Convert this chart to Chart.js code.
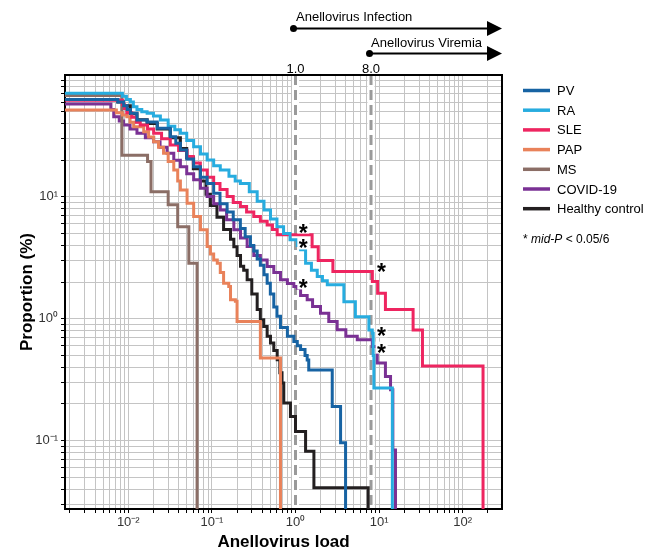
<!DOCTYPE html>
<html>
<head>
<meta charset="utf-8">
<script src="https://cdn.jsdelivr.net/npm/chart.js@4"></script>
<style>
  html, body { margin: 0; padding: 0; background: #fff; }
  #wrap { width: 654px; height: 555px; position: relative; }
</style>
</head>
<body>
<div id="wrap"><canvas id="myChart"></canvas></div>
<script>
// Anellovirus load (x) vs proportion of samples at or above that load (y, %)
const seriesNames = ['PV', 'RA', 'SLE', 'PAP', 'MS', 'COVID-19', 'Healthy control'];
const seriesColors = ['#1763a3', '#27acdf', '#ee2560', '#e9825a', '#8b6e66', '#7a3194', '#231f20'];

const pvLoad = [0.001, 0.0075, 0.0088, 0.0097, 0.0106, 0.0127, 0.0168, 0.0222, 0.0318, 0.037, 0.042, 0.05, 0.0605, 0.073, 0.0877, 0.105, 0.125, 0.152, 0.18, 0.219, 0.25, 0.289, 0.317, 0.348, 0.38, 0.42, 0.458, 0.5, 0.55, 0.6, 0.661, 0.8, 0.955, 1.05, 1.15, 1.3, 1.38, 1.44, 2.75, 3.46, 3.97];
const pvProp = [63, 60, 56, 52, 48.5, 42.8, 41.2, 36.5, 31.2, 27.5, 24.2, 20.5, 17.7, 14.5, 12.9, 10.7, 8.8, 7.5, 6.5, 5.5, 4.7, 4.0, 3.6, 3.1, 2.75, 2.3, 1.96, 1.6, 1.25, 1.05, 0.85, 0.72, 0.65, 0.6, 0.56, 0.5, 0.46, 0.38, 0.191, 0.096, 0.001];

const raLoad = [0.001, 0.0085, 0.0095, 0.0106, 0.0115, 0.0127, 0.0145, 0.0168, 0.02, 0.0242, 0.03, 0.036, 0.042, 0.05, 0.0605, 0.073, 0.0877, 0.105, 0.126, 0.16, 0.19, 0.219, 0.28, 0.348, 0.42, 0.502, 0.6, 0.72, 0.86, 1.05, 1.15, 1.32, 1.55, 1.82, 2.1, 2.4, 3.79, 5.2, 7.55, 8.29, 8.5, 8.66, 14.4];
const raProp = [70.8, 67, 63, 60, 55, 52, 50, 48.5, 46, 42.8, 38, 35.5, 33.3, 29, 25.8, 22.5, 20.1, 18, 16.6, 14.8, 13.5, 12.9, 11, 9.2, 7.8, 6.6, 5.7, 5.0, 4.44, 4.0, 3.68, 2.86, 2.5, 2.22, 2.05, 1.9, 1.38, 1.04, 0.81, 0.76, 0.5, 0.27, 0.001];

const sleLoad = [0.001, 0.0085, 0.009, 0.0096, 0.011, 0.0125, 0.0139, 0.017, 0.0201, 0.025, 0.0318, 0.04, 0.0505, 0.06, 0.0728, 0.088, 0.105, 0.125, 0.152, 0.18, 0.219, 0.26, 0.317, 0.38, 0.458, 0.53, 0.604, 1.58, 1.87, 2.8, 8.3, 9.6, 11.9, 25.5, 33, 175];
const sleProp = [62, 57, 53, 49, 45, 41, 38.9, 36, 33.3, 30, 26.7, 24, 21.4, 19, 16.6, 14.5, 12.9, 11.5, 10.05, 9, 8.32, 7.5, 6.9, 6.3, 5.89, 5.4, 4.9, 3.9, 3.0, 2.44, 2.02, 1.62, 1.19, 0.81, 0.41, 0.001];

const papLoad = [0.001, 0.0072, 0.0085, 0.0096, 0.0105, 0.0116, 0.0153, 0.0175, 0.0201, 0.023, 0.0264, 0.03, 0.035, 0.039, 0.042, 0.0505, 0.0605, 0.073, 0.0877, 0.096, 0.105, 0.116, 0.126, 0.138, 0.159, 0.167, 0.191, 0.2, 0.38, 0.661];
const papProp = [51.7, 49, 47, 45.5, 41, 37.7, 34.2, 31, 28.4, 25.5, 22.8, 19.5, 16.6, 13.5, 11.4, 8.88, 6.9, 5.37, 3.91, 3.4, 3.04, 2.86, 2.4, 1.96, 1.84, 1.43, 1.39, 0.95, 0.476, 0.001];

const msLoad = [0.001, 0.0084, 0.017, 0.0187, 0.03, 0.039, 0.053, 0.0665];
const msProp = [68, 22, 19.5, 11, 8.6, 5.7, 2.86, 0.001];

const covidLoad = [0.001, 0.0062, 0.0067, 0.0078, 0.0088, 0.0105, 0.0127, 0.016, 0.0201, 0.024, 0.0291, 0.035, 0.042, 0.05, 0.0605, 0.073, 0.0877, 0.105, 0.126, 0.15, 0.183, 0.22, 0.264, 0.317, 0.38, 0.458, 0.55, 0.661, 0.8, 0.955, 1.05, 1.15, 1.38, 1.6, 1.99, 2.5, 3.15, 4, 5.48, 8.29, 9.5, 11.9, 13.7, 14.6, 15.7];
const covidProp = [57.8, 52, 45.5, 42, 38.9, 36, 33.3, 30.5, 28.4, 25.5, 22.8, 20, 17.7, 15.5, 13.8, 11.8, 10.05, 8.8, 7.8, 6.5, 5.37, 4.6, 3.91, 3.3, 3.04, 2.68, 2.4, 2.09, 1.95, 1.84, 1.78, 1.55, 1.43, 1.26, 1.11, 0.95, 0.813, 0.72, 0.673, 0.593, 0.433, 0.336, 0.262, 0.084, 0.001];

const hcLoad = [0.001, 0.0075, 0.0088, 0.0106, 0.0127, 0.0168, 0.0222, 0.0318, 0.042, 0.05, 0.06, 0.073, 0.085, 0.096, 0.115, 0.138, 0.167, 0.183, 0.2, 0.22, 0.24, 0.264, 0.3, 0.348, 0.38, 0.417, 0.458, 0.502, 0.55, 0.604, 0.65, 0.69, 0.724, 0.87, 1.0, 1.32, 1.66, 7.4];
const hcProp = [63, 60, 56, 48, 43, 40, 36, 30.5, 25, 21, 17, 13.5, 10.5, 8.5, 6.8, 5.4, 4.5, 3.9, 3.3, 2.7, 2.5, 2.09, 1.6, 1.19, 0.98, 0.865, 0.72, 0.632, 0.55, 0.461, 0.36, 0.297, 0.204, 0.158, 0.119, 0.082, 0.041, 0.001];

const allLoads = [pvLoad, raLoad, sleLoad, papLoad, msLoad, covidLoad, hcLoad];
const allProps = [pvProp, raProp, sleProp, papProp, msProp, covidProp, hcProp];

// threshold lines and significance stars
const thresholds = [1, 8];
const thresholdLabels = ['1.0', '8.0'];
const starLoad = [1.24, 1.24, 1.24, 10.7, 10.7, 10.7];
const starProp = [5.6, 4.15, 1.95, 2.64, 0.79, 0.58];

// axis ticks
const xTickValues = [0.01, 0.1, 1, 10, 100];
const xTickLabels = ['10\u207B\u00B2', '10\u207B\u00B9', '10\u2070', '10\u00B9', '10\u00B2'];
const yTickValues = [0.1, 1, 10];
const yTickLabels = ['10\u207B\u00B9', '10\u2070', '10\u00B9'];

const FONT = '"Liberation Sans", Arial, sans-serif';

function logTicks(lo, hi) {
  const out = [];
  for (let e = Math.floor(Math.log10(lo)); e <= Math.ceil(Math.log10(hi)); e++) {
    for (let m = 1; m <= 9; m++) {
      const v = +(m * Math.pow(10, e)).toPrecision(3);
      if (v > lo * 1.0001 && v < hi * 0.9999) out.push({ value: v });
    }
  }
  return out;
}

function labelFor(values, labels) {
  return function (v) {
    const i = values.findIndex(t => Math.abs(t - v) / t < 1e-6);
    return i >= 0 ? labels[i] : '';
  };
}

const extras = {
  id: 'extras',
  beforeDatasetsDraw(chart) {
    const { ctx, chartArea: a, scales: { x } } = chart;
    ctx.save();
    thresholds.forEach(t => {
      const px = x.getPixelForValue(t);
      ctx.setLineDash([]);
      ctx.strokeStyle = '#fff';
      ctx.lineWidth = 7;
      ctx.beginPath(); ctx.moveTo(px, a.top + 1); ctx.lineTo(px, a.bottom - 1); ctx.stroke();
      ctx.setLineDash([10, 5]);
      ctx.strokeStyle = '#9a9a9a';
      ctx.lineWidth = 3;
      ctx.beginPath(); ctx.moveTo(px, a.top); ctx.lineTo(px, a.bottom); ctx.stroke();
    });
    ctx.restore();
  },
  afterDatasetsDraw(chart) {
    const { ctx, scales: { x, y } } = chart;
    ctx.save();
    ctx.font = 'bold 23px ' + FONT;
    ctx.textAlign = 'center';
    ctx.textBaseline = 'alphabetic';
    starLoad.forEach((l, i) => {
      const px = x.getPixelForValue(l);
      const py = y.getPixelForValue(starProp[i]);
      ctx.fillStyle = '#fff';
      ctx.fillRect(px - 6, py - 6, 12, 12);
      ctx.fillStyle = '#000';
      ctx.fillText('*', px, py + 13);
    });
    ctx.restore();
  },
  afterDraw(chart) {
    const { ctx, chartArea: a, scales: { x } } = chart;
    ctx.save();
    // top and right frame
    ctx.strokeStyle = '#000';
    ctx.lineWidth = 2;
    ctx.beginPath();
    ctx.moveTo(a.left - 1, a.top);
    ctx.lineTo(a.right, a.top);
    ctx.lineTo(a.right, a.bottom + 1);
    ctx.stroke();

    // threshold labels
    ctx.fillStyle = '#000';
    ctx.font = '13px ' + FONT;
    ctx.textAlign = 'center';
    ctx.textBaseline = 'alphabetic';
    thresholds.forEach((t, i) => ctx.fillText(thresholdLabels[i], x.getPixelForValue(t), 73));

    // arrows
    const arrow = (x0, yy, x1) => {
      ctx.lineWidth = 2;
      ctx.beginPath(); ctx.moveTo(x0, yy); ctx.lineTo(x1 - 10, yy); ctx.stroke();
      ctx.beginPath(); ctx.moveTo(x1, yy); ctx.lineTo(x1 - 15, yy - 7.5); ctx.lineTo(x1 - 15, yy + 7.5); ctx.closePath(); ctx.fill();
      ctx.beginPath(); ctx.arc(x0, yy, 3.5, 0, Math.PI * 2); ctx.fill();
    };
    arrow(x.getPixelForValue(1) - 2, 28.5, 502);
    arrow(x.getPixelForValue(8) - 1.5, 53.5, 502);
    ctx.textAlign = 'left';
    ctx.fillText('Anellovirus Infection', 296, 20.5);
    ctx.fillText('Anellovirus Viremia', 371, 46.5);

    // legend
    chart.data.datasets.forEach((ds, i) => {
      const ly = 90.5 + i * 19.7;
      ctx.strokeStyle = ds.borderColor;
      ctx.lineWidth = 3.5;
      ctx.beginPath(); ctx.moveTo(523, ly); ctx.lineTo(550, ly); ctx.stroke();
      ctx.fillStyle = '#000';
      ctx.textBaseline = 'middle';
      ctx.fillText(ds.label, 557, ly + 1);
    });
    ctx.textBaseline = 'middle';
    let tx = 523;
    ctx.font = '12px ' + FONT;
    ctx.fillText('* ', tx, 240); tx += ctx.measureText('* ').width;
    ctx.font = 'italic 12px ' + FONT;
    ctx.fillText('mid-P', tx, 240); tx += ctx.measureText('mid-P').width;
    ctx.font = '12px ' + FONT;
    ctx.fillText(' < 0.05/6', tx, 240);
    ctx.restore();
  }
};

const datasets = seriesNames.map((name, i) => ({
  label: name,
  data: allLoads[i].map((l, j) => ({ x: l, y: allProps[i][j] })),
  borderColor: seriesColors[i],
  backgroundColor: seriesColors[i],
  borderWidth: 3,
  stepped: 'before', // hold each value until the next load, then drop
  pointRadius: 0,
  fill: false,
  clip: 0
}));

const ctx = document.getElementById('myChart').getContext('2d');
new Chart(ctx, {
  type: 'line',
  data: { datasets: datasets },
  plugins: [extras],
  options: {
    responsive: true,
    maintainAspectRatio: false,
    animation: false,
    layout: { padding: { top: 75, right: 152, left: 0, bottom: 0 } },
    plugins: { legend: { display: false }, tooltip: { enabled: false } },
    scales: {
      x: {
        type: 'logarithmic',
        min: 0.00175,
        max: 295,
        bounds: 'data',
        afterBuildTicks: s => { s.ticks = logTicks(s.min, s.max); },
        afterFit: s => { s.height = 46; },
        grid: { color: '#c4c4c4', lineWidth: 1, tickLength: 4, tickColor: '#000', tickWidth: 1 },
        border: { color: '#000', width: 2 },
        ticks: { autoSkip: false, maxRotation: 0, padding: 2, color: '#333', font: { family: FONT, size: 13 }, callback: labelFor(xTickValues, xTickLabels) },
        title: { display: true, text: 'Anellovirus load', color: '#000', font: { family: FONT, size: 17, weight: 'bold' }, padding: { top: 0, bottom: 2 } }
      },
      y: {
        type: 'logarithmic',
        min: 0.0275,
        max: 100,
        bounds: 'data',
        afterBuildTicks: s => { s.ticks = logTicks(s.min, s.max); },
        afterFit: s => { s.width = 65; },
        grid: { color: '#c4c4c4', lineWidth: 1, tickLength: 4, tickColor: '#000', tickWidth: 1 },
        border: { color: '#000', width: 2 },
        ticks: { autoSkip: false, padding: 3, color: '#333', font: { family: FONT, size: 13 }, callback: labelFor(yTickValues, yTickLabels) },
        title: { display: true, text: 'Proportion (%)', color: '#000', font: { family: FONT, size: 17, weight: 'bold' }, padding: { top: 17, bottom: 0 } }
      }
    }
  }
});
</script>
</body>
</html>
